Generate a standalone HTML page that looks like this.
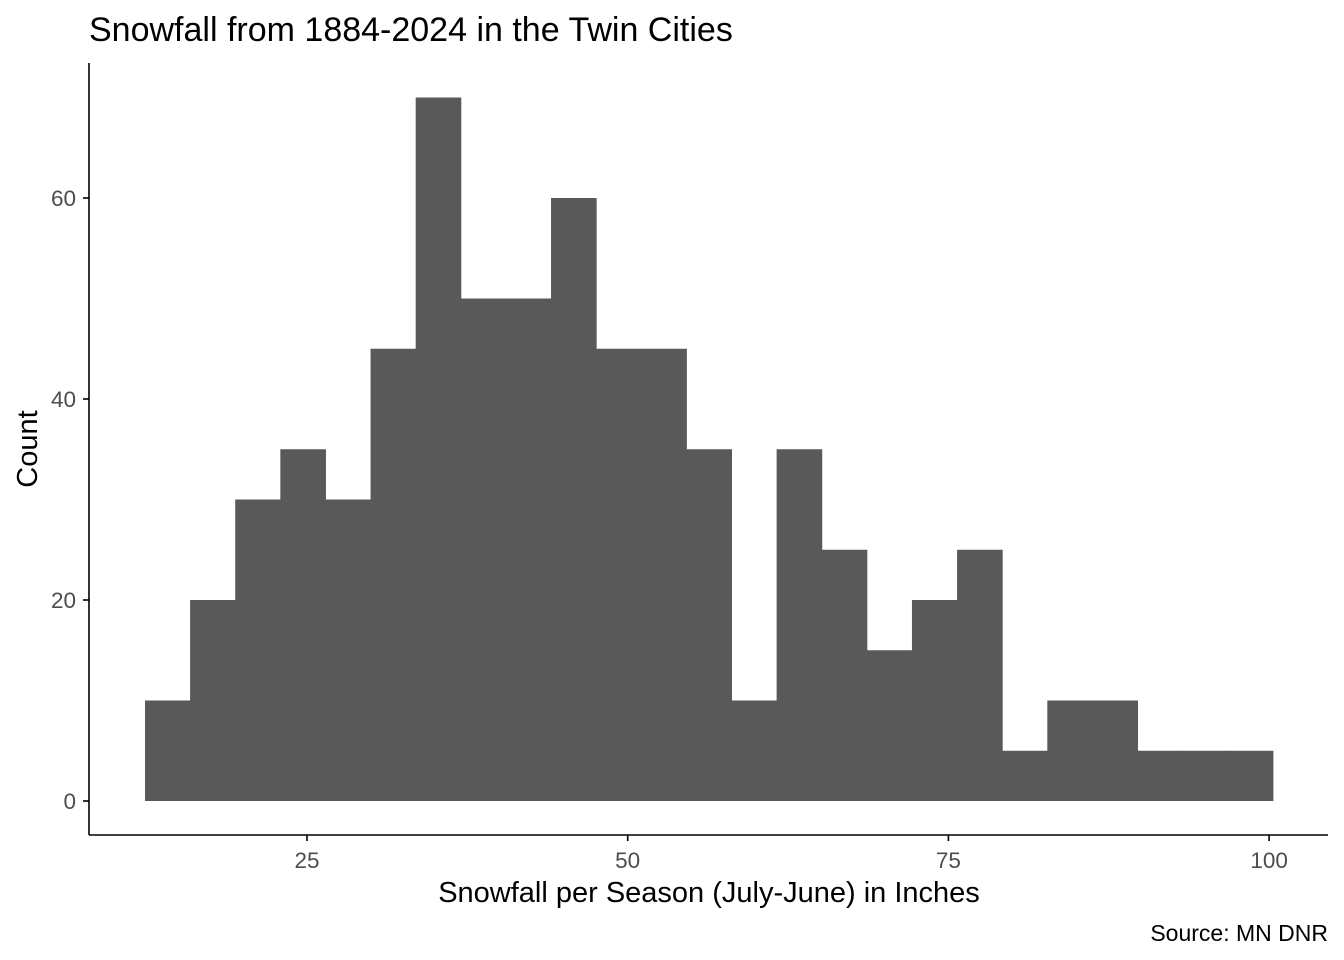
<!DOCTYPE html>
<html><head><meta charset="utf-8"><style>
html,body{margin:0;padding:0;background:#fff;}
svg{display:block;font-family:"Liberation Sans",Arial,sans-serif;}
</style></head><body>
<svg id="chart" width="1344" height="960" viewBox="0 0 1344 960">
<text x="89" y="41" font-size="34" fill="#000">Snowfall from 1884-2024 in the Twin Cities</text>
<g id="bars"></g>
<g id="axes"></g>
<text x="709" y="902" font-size="29" text-anchor="middle" fill="#000">Snowfall per Season (July-June) in Inches</text>
<text transform="translate(37,449) rotate(-90)" font-size="29" text-anchor="middle" fill="#000">Count</text>
<text x="1328" y="941" font-size="23" text-anchor="end" fill="#000">Source: MN DNR</text>
</svg>
<script>
const binStart = 12.37;
const binWidth = 3.517;
const counts = [10,20,30,35,30,45,70,50,50,60,45,45,35,10,35,25,15,20,25,5,10,10,5,5,5];
const xTicks = [25,50,75,100];
const yTicks = [0,20,40,60];

const NS = "http://www.w3.org/2000/svg";
function xs(v){ return 307 + (v-25)*12.828; }
function ys(v){ return 801 - v*10.05; }

const bars = document.getElementById('bars');
counts.forEach((c,i)=>{
  const x0 = xs(binStart + i*binWidth), x1 = xs(binStart + (i+1)*binWidth);
  const r = document.createElementNS(NS,'rect');
  r.setAttribute('x', x0); r.setAttribute('width', x1-x0+0.5);
  r.setAttribute('y', ys(c)); r.setAttribute('height', ys(0)-ys(c));
  r.setAttribute('fill', '#595959');
  
  
  bars.appendChild(r);
});

const axes = document.getElementById('axes');
function line(x1,y1,x2,y2,name){
  const l = document.createElementNS(NS,'line');
  l.setAttribute('x1',x1);l.setAttribute('y1',y1);l.setAttribute('x2',x2);l.setAttribute('y2',y2);
  l.setAttribute('stroke','#000');l.setAttribute('stroke-width','1.6');
  
  
  axes.appendChild(l);
}
function txt(x,y,s,anchor,name){
  const t = document.createElementNS(NS,'text');
  t.setAttribute('x',x);t.setAttribute('y',y);t.setAttribute('font-size','22.5');
  t.setAttribute('fill','#4d4d4d');t.setAttribute('text-anchor',anchor);
  t.textContent = s;
  
  
  axes.appendChild(t);
}
line(89,63,89,835,'y-axis-line');
line(89,835,1328,835,'x-axis-line');
yTicks.forEach(v=>{
  line(83,ys(v),89,ys(v),'y-tick');
  txt(76,ys(v)+8,String(v),'end','y-tick-label');
});
xTicks.forEach(v=>{
  line(xs(v),835,xs(v),841,'x-tick');
  txt(xs(v),868,String(v),'middle','x-tick-label');
});
</script>
</body></html>
